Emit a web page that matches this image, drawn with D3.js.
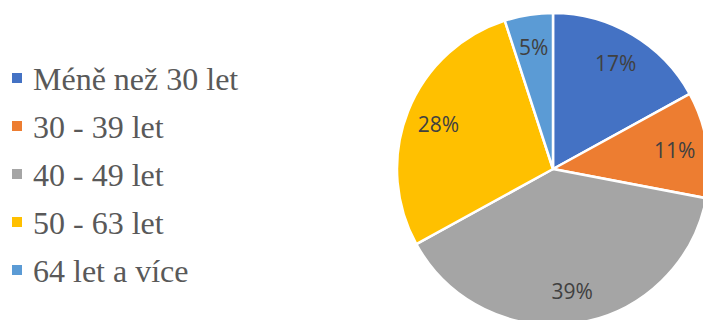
<!DOCTYPE html>
<html>
<head>
<meta charset="utf-8">
<script src="https://cdn.jsdelivr.net/npm/d3@7"></script>
<style>
  html, body { margin: 0; padding: 0; background: #fff; }
  svg { display: block; }
</style>
</head>
<body>
<svg id="chart" width="703" height="320"></svg>
<script>
// Age groups and their shares (%)
const categories = ["Méně než 30 let", "30 - 39 let", "40 - 49 let", "50 - 63 let", "64 let a více"];
const shares = [17, 11, 39, 28, 5];
const colors = ["#4472C4", "#ED7D31", "#A5A5A5", "#FFC000", "#5B9BD5"];

const svg = d3.select("#chart");

const cx = 553, cy = 169, radius = 156;

const data = categories.map((c, i) => ({ name: c, value: shares[i], color: colors[i] }));

const pie = d3.pie().value(d => d.value).sort(null).startAngle(0).endAngle(2 * Math.PI);
const arc = d3.arc().innerRadius(0).outerRadius(radius);
const labelArc = d3.arc().innerRadius(radius * 0.79).outerRadius(radius * 0.79);

const g = svg.append("g").attr("transform", `translate(${cx},${cy})`);
const arcs = pie(data);

g.selectAll("path.slice")
  .data(arcs)
  .join("path")
  .attr("class", "slice")
  .attr("d", arc)
  .attr("fill", d => d.data.color)
  .attr("stroke", "#fff")
  .attr("stroke-width", 2.5)
  .attr("stroke-linejoin", "round");

g.selectAll("text.pct")
  .data(arcs)
  .join("text")
  .attr("class", "pct")
  .attr("transform", d => `translate(${labelArc.centroid(d)})`)
  .attr("text-anchor", "middle")
  .attr("dominant-baseline", "central")
  .attr("font-family", "'Open Sans', sans-serif")
  .attr("font-size", 21)
  .attr("fill", "#404040")
  .text(d => d.data.value + "%");

// Legend
const legend = svg.append("g").attr("transform", "translate(12,0)");
const rowY = d3.scalePoint().domain(categories).range([90, 282]);

const item = legend.selectAll("g.item")
  .data(data)
  .join("g")
  .attr("class", "item")
  .attr("transform", d => `translate(0,${rowY(d.name)})`);

item.append("rect")
  .attr("x", 0)
  .attr("y", -17)
  .attr("width", 10)
  .attr("height", 10)
  .attr("fill", d => d.color);

item.append("text")
  .attr("x", 21)
  .attr("y", 0)
  .attr("font-family", "'Liberation Serif', 'Times New Roman', serif")
  .attr("font-size", 32)
  .attr("fill", "#595959")
  .text(d => d.name);
</script>
</body>
</html>
